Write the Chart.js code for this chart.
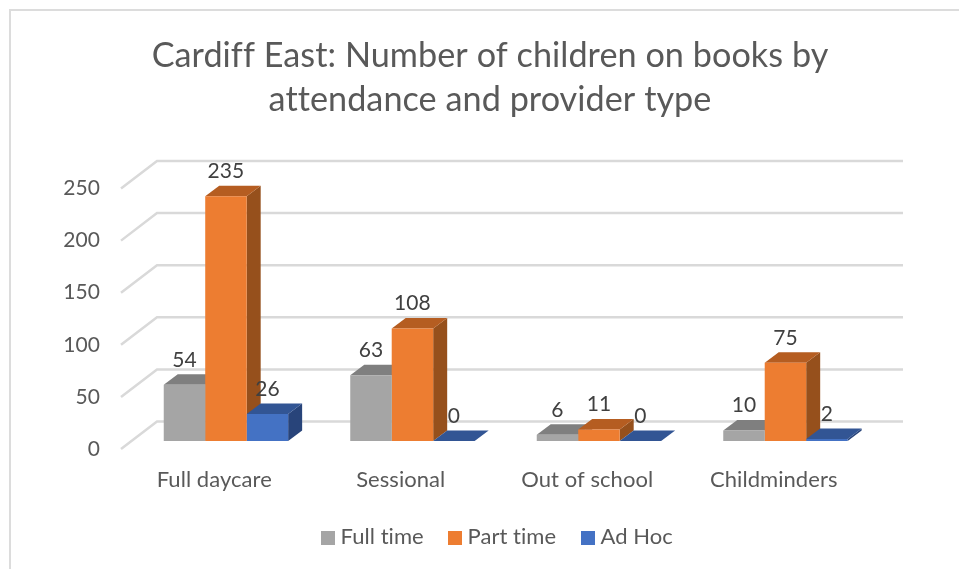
<!DOCTYPE html>
<html>
<head>
<meta charset="utf-8">
<script src="https://cdn.jsdelivr.net/npm/chart.js@4/dist/chart.umd.min.js"></script>
<style>
    html, body { margin: 0; padding: 0; background: #fff; overflow: hidden; }
    #wrap { position: relative; width: 959px; height: 569px; }
    #frame { position: absolute; left: 9px; top: 9px; width: 960px; height: 570px; border: 2px solid #dcdcdc; }
    canvas { position: absolute; left: 0; top: 0; }
</style>
</head>
<body>
<div id="wrap">
    <div id="frame"></div>
    <canvas id="chart" width="959" height="569"></canvas>
</div>
<script>
// Datos del gráfico
const categories = ['Full daycare', 'Sessional', 'Out of school', 'Childminders'];
const fullTime = [54, 63, 6, 10];
const partTime = [235, 108, 11, 75];
const adHoc = [26, 0, 0, 2];
const seriesNames = ['Full time', 'Part time', 'Ad Hoc'];
const yTicks = [0, 50, 100, 150, 200, 250];
const titleLines = ['Cardiff East: Number of children on books by', 'attendance and provider type'];

// Colores: frente, tapa, lateral
const frontColors = ['#a5a5a5', '#ed7d31', '#4472c4'];
const topColors = ['#7f7f7f', '#b55d21', '#325594'];
const sideColors = ['#8a8a8a', '#96501c', '#28447a'];

const FONT = 'Lato, sans-serif';
const BOX_DX = 14, BOX_DY = 10.5;   // profundidad de cada barra
const WALL_DX = 36, WALL_DY = 27.5; // profundidad del suelo
const SHIFT_X = 11.7, SHIFT_Y = -8; // las barras van en medio del suelo

function poly(ctx, color, pts) {
    ctx.fillStyle = color;
    ctx.beginPath();
    pts.forEach((p, i) => i ? ctx.lineTo(p[0], p[1]) : ctx.moveTo(p[0], p[1]));
    ctx.closePath();
    ctx.fill();
}

// Paredes y líneas de la rejilla
const gridPlugin = {
    id: 'grid3d',
    beforeDraw(chart) {
        // sin ligaduras de Lato (tt, ff)
        chart.ctx.letterSpacing = '0.05px';
    },
    beforeDatasetsDraw(chart) {
        const { ctx, chartArea, scales } = chart;
        ctx.save();
        ctx.strokeStyle = '#d9d9d9';
        ctx.lineWidth = 2.5;
        yTicks.forEach(v => {
            const y = scales.y.getPixelForValue(v);
            ctx.beginPath();
            ctx.moveTo(chartArea.left, y);
            ctx.lineTo(chartArea.left + WALL_DX, y - WALL_DY);
            ctx.lineTo(chartArea.right + WALL_DX, y - WALL_DY);
            ctx.stroke();
        });
        ctx.restore();
    }
};

// Caras laterales y superiores; el frente lo dibuja Chart.js encima
const boxPlugin = {
    id: 'box3d',
    beforeDatasetsDraw(chart) {
        const { ctx } = chart;
        ctx.save();
        ctx.translate(SHIFT_X, SHIFT_Y);
        chart.data.datasets.forEach((ds, i) => {
            chart.getDatasetMeta(i).data.forEach(bar => {
                const p = bar.getProps(['x', 'y', 'base', 'width'], true);
                const l = p.x - p.width / 2, r = p.x + p.width / 2;
                poly(ctx, sideColors[i], [[r, p.y], [r + BOX_DX, p.y - BOX_DY], [r + BOX_DX, p.base - BOX_DY], [r, p.base]]);
                poly(ctx, topColors[i], [[l, p.y], [l + BOX_DX, p.y - BOX_DY], [r + BOX_DX, p.y - BOX_DY], [r, p.y]]);
            });
        });
    },
    afterDatasetsDraw(chart) {
        chart.ctx.restore();
    }
};

// Etiquetas de valor y leyenda
const labelPlugin = {
    id: 'labels3d',
    afterDatasetsDraw(chart) {
        const { ctx } = chart;
        ctx.save();
        ctx.font = '21px ' + FONT;
        ctx.fillStyle = '#404040';
        ctx.textAlign = 'center';
        ctx.textBaseline = 'middle';
        chart.data.datasets.forEach((ds, i) => {
            chart.getDatasetMeta(i).data.forEach((bar, j) => {
                ctx.fillText(String(ds.data[j]), bar.x + SHIFT_X, bar.y + SHIFT_Y - 25);
            });
        });
        ctx.restore();
    },
    afterDraw(chart) {
        const { ctx } = chart;
        const boxX = [321, 448, 581];
        ctx.save();
        ctx.font = '22px ' + FONT;
        ctx.textBaseline = 'middle';
        seriesNames.forEach((name, i) => {
            ctx.fillStyle = frontColors[i];
            ctx.fillRect(boxX[i], 531, 14, 14);
            ctx.fillStyle = '#595959';
            ctx.fillText(name, boxX[i] + 19.5, 537);
        });
        ctx.restore();
    }
};

new Chart(document.getElementById('chart'), {
    type: 'bar',
    data: {
        labels: categories,
        datasets: [
            { label: seriesNames[0], data: fullTime, backgroundColor: frontColors[0] },
            { label: seriesNames[1], data: partTime, backgroundColor: frontColors[1] },
            { label: seriesNames[2], data: adHoc, backgroundColor: frontColors[2] }
        ]
    },
    options: {
        responsive: false,
        animation: false,
        layout: { padding: { left: 21, right: 0, top: 0, bottom: 0 } },
        datasets: { bar: { categoryPercentage: 0.667, barPercentage: 1, clip: false } },
        plugins: {
            legend: { display: false },
            tooltip: { enabled: false },
            title: {
                display: true,
                text: titleLines,
                color: '#595959',
                font: { family: FONT, size: 34.2, weight: 'normal', lineHeight: 1.287 },
                padding: { top: 34, bottom: 66.5 }
            }
        },
        scales: {
            x: {
                grid: { display: false, drawTicks: false },
                border: { display: false },
                ticks: { color: '#595959', font: { family: FONT, size: 22 }, padding: 18, maxRotation: 0 },
                afterFit(scale) { scale.height = 120; }
            },
            y: {
                min: 0,
                max: 250,
                grid: { display: false, drawTicks: false },
                border: { display: false },
                ticks: { stepSize: 50, color: '#595959', font: { family: FONT, size: 21 }, padding: 21 },
                afterFit(scale) { scale.width = 100; }
            },
            // eje vacío para reservar el margen derecho
            margen: {
                position: 'right',
                grid: { display: false },
                border: { display: false },
                ticks: { display: false },
                afterFit(scale) { scale.width = 92; }
            }
        }
    },
    plugins: [gridPlugin, boxPlugin, labelPlugin]
});
</script>
</body>
</html>
